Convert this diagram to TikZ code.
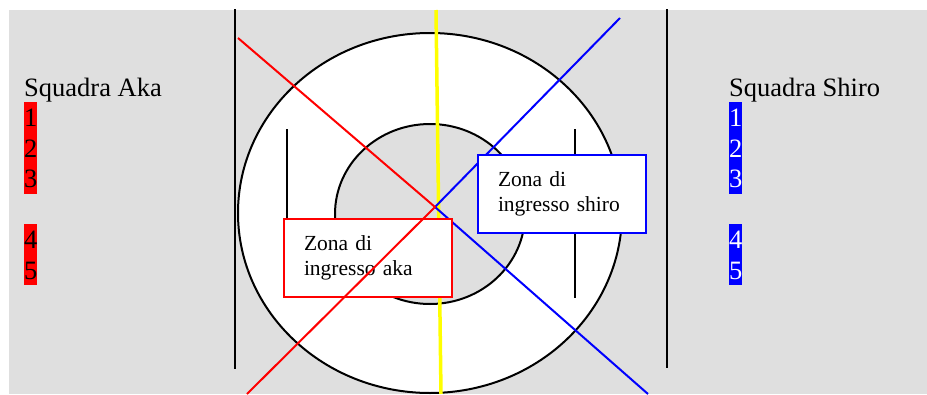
\documentclass[tikz,border=0pt]{standalone}
\usepackage{fontspec}
\setmainfont{Liberation Serif}
\usepackage{xcolor}
\definecolor{cBg}{HTML}{DFDFDF}
\definecolor{cAka}{HTML}{FF0000}
\definecolor{cShiro}{HTML}{0000FF}
\definecolor{cGiallo}{HTML}{FFFF00}
\tikzset{
  bordo/.style ={line width=2pt,black},
  diag/.style  ={line width=2pt},
  zona/.style  ={rectangle,line width=2pt,fill=white,align=left,text width=128pt,
                 inner xsep=20pt,inner ysep=0pt,minimum width=168pt,minimum height=78pt,
                 anchor=north west,font=\fontsize{21.5}{24.5}\selectfont},
  titolo/.style={anchor=base west,inner sep=0pt,font=\fontsize{26.5}{30.5}\selectfont},
  num/.style   ={titolo,text height=24.2pt,text depth=6.3pt},
  numaka/.style={num,fill=cAka,text=black}, numshiro/.style={num,fill=cShiro,text=white},
}

\begin{document}
\begin{tikzpicture}[x=1pt,y=-1pt]
\useasboundingbox (0,0) rectangle (927,394);
\fill[cBg] (9,10) rectangle (927,394);
% campo
\draw[bordo,fill=white] (430,213) ellipse [x radius=192pt,y radius=180pt];
\draw[bordo,fill=cBg] (430,214) ellipse [x radius=95pt,y radius=90pt];
\draw[bordo] (287,129) -- (287,298);
\draw[bordo] (575,129) -- (575,298);
\draw[bordo] (235,9) -- (235,369);
\draw[bordo] (667,9) -- (667,368);
\coordinate (centro) at (435,207);
\draw[line width=3.5pt,cGiallo] (436,10) -- (441,394);
\draw[diag,cShiro] (620,18) -- (centro) -- (648,394);
\node[zona,draw=cShiro] (zonaShiro) at (477,154) {Zona di\\ingresso shiro};
\node[zona,draw=cAka] (zonaAka) at (283,218) {Zona di\\ingresso aka};
\draw[diag,cAka] (238,38) -- (centro) -- (247,394);
% squadre
\node[titolo] (titoloAka) at (24,96) {Squadra Aka};
\node[titolo] (titoloShiro) at (729,96) {Squadra Shiro};
\foreach \n/\y in {1/126.5,2/157,3/187.5,4/248.5,5/279}{
  \node[numaka] (aka\n) at (24,\y) {\n};
  \node[numshiro] (shiro\n) at (729,\y) {\n};
}
\end{tikzpicture}
\end{document}
